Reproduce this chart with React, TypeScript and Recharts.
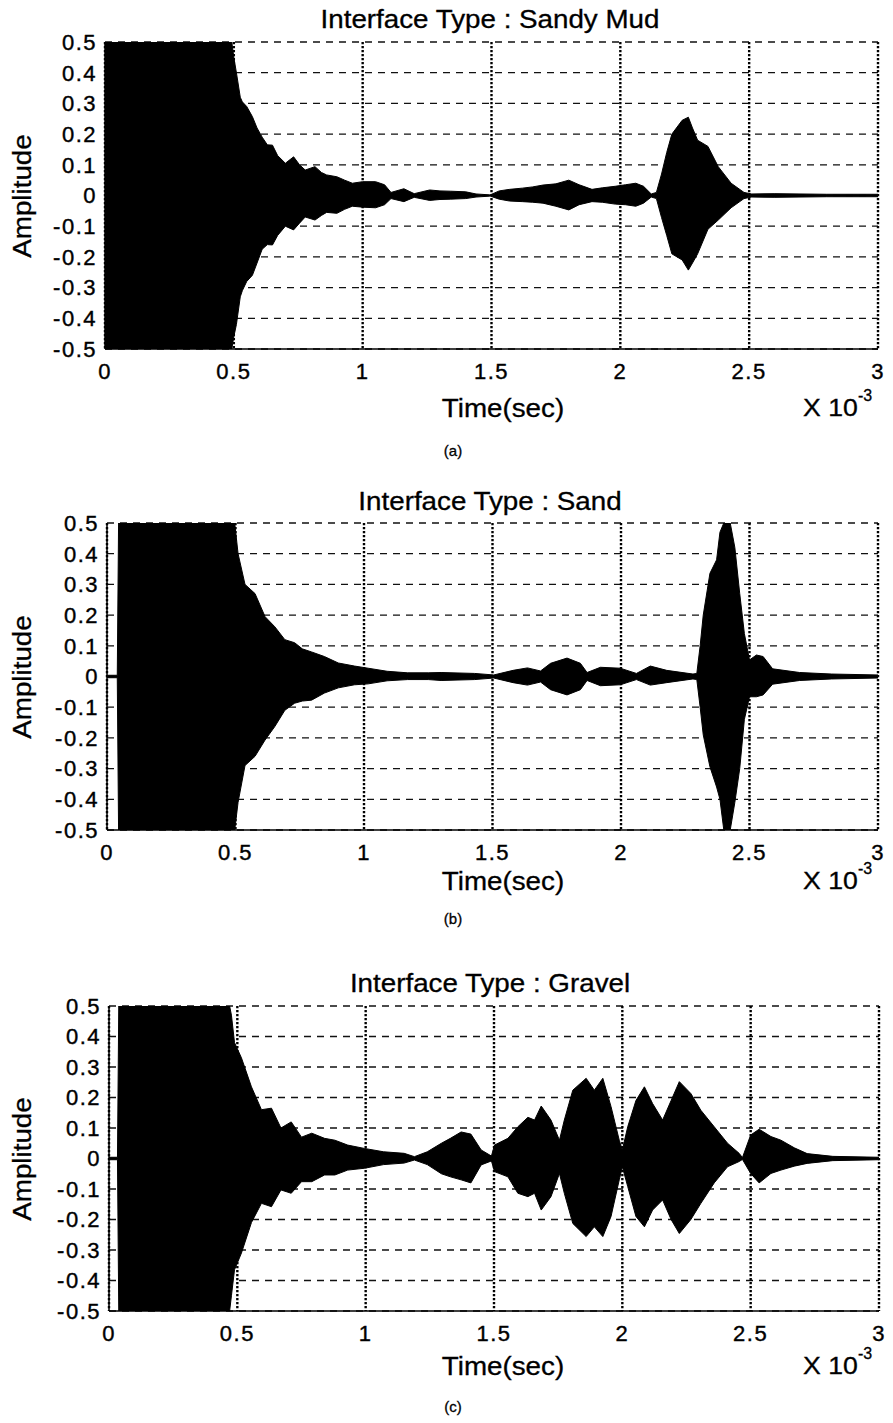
import React from 'react';
import { ComposedChart, Area, XAxis, YAxis, CartesianGrid } from 'recharts';

// time axis in ms (x 10^-3 s), amplitude envelopes
const timeTicks = [0, 0.5, 1, 1.5, 2, 2.5, 3];
const ampTicks = [-0.5, -0.4, -0.3, -0.2, -0.1, 0, 0.1, 0.2, 0.3, 0.4, 0.5];

// (a) Sandy Mud
const timeA = [0, 0.492, 0.5, 0.51, 0.525, 0.533, 0.55, 0.572, 0.59, 0.61, 0.63, 0.65, 0.67, 0.7, 0.732, 0.755, 0.777, 0.815, 0.84, 0.86, 0.9, 0.93, 0.96, 1.0, 1.05, 1.085, 1.11, 1.16, 1.2, 1.26, 1.3, 1.34, 1.4, 1.44, 1.495, 1.53, 1.57, 1.62, 1.66, 1.7, 1.75, 1.8, 1.84, 1.89, 1.93, 1.98, 2.02, 2.06, 2.09, 2.12, 2.14, 2.16, 2.18, 2.2, 2.24, 2.264, 2.28, 2.3, 2.34, 2.38, 2.43, 2.48, 2.51, 2.6, 2.8, 3.0];
const upperA = [0.5, 0.5, 0.45, 0.4, 0.32, 0.305, 0.29, 0.257, 0.22, 0.19, 0.165, 0.164, 0.13, 0.105, 0.126, 0.1, 0.083, 0.094, 0.075, 0.067, 0.061, 0.05, 0.04, 0.045, 0.045, 0.035, 0.01, 0.022, 0.006, 0.018, 0.015, 0.014, 0.012, 0.005, 0.002, 0.015, 0.02, 0.024, 0.028, 0.034, 0.038, 0.05, 0.035, 0.02, 0.025, 0.03, 0.035, 0.04, 0.03, 0.005, 0.01, 0.07, 0.14, 0.2, 0.245, 0.255, 0.22, 0.18, 0.16, 0.094, 0.04, 0.01, 0.005, 0.006, 0.004, 0.004];
const lowerA = [-0.5, -0.5, -0.46, -0.42, -0.33, -0.31, -0.28, -0.26, -0.22, -0.175, -0.16, -0.161, -0.13, -0.1, -0.112, -0.09, -0.07, -0.08, -0.065, -0.055, -0.058, -0.045, -0.035, -0.038, -0.04, -0.03, -0.01, -0.02, -0.006, -0.016, -0.013, -0.012, -0.01, -0.005, -0.002, -0.012, -0.018, -0.02, -0.022, -0.025, -0.035, -0.047, -0.03, -0.02, -0.022, -0.028, -0.03, -0.035, -0.025, -0.005, -0.01, -0.072, -0.13, -0.19, -0.21, -0.243, -0.22, -0.19, -0.11, -0.08, -0.04, -0.01, -0.005, -0.006, -0.004, -0.004];

// (b) Sand
const timeB = [0, 0.04, 0.045, 0.497, 0.51, 0.537, 0.576, 0.615, 0.653, 0.692, 0.73, 0.76, 0.796, 0.846, 0.9, 0.963, 1.016, 1.09, 1.17, 1.25, 1.3, 1.43, 1.505, 1.58, 1.636, 1.687, 1.726, 1.79, 1.842, 1.868, 1.92, 1.997, 2.06, 2.114, 2.178, 2.28, 2.295, 2.308, 2.32, 2.346, 2.372, 2.385, 2.4, 2.425, 2.443, 2.462, 2.48, 2.5, 2.527, 2.553, 2.59, 2.695, 2.82, 3.0];
const upperB = [0.004, 0.004, 0.5, 0.5, 0.4, 0.3, 0.27, 0.195, 0.162, 0.12, 0.11, 0.09, 0.08, 0.065, 0.044, 0.034, 0.027, 0.017, 0.012, 0.012, 0.013, 0.01, 0.005, 0.02, 0.028, 0.018, 0.043, 0.06, 0.043, 0.013, 0.03, 0.027, 0.01, 0.034, 0.02, 0.008, 0.01, 0.1, 0.2, 0.336, 0.38, 0.47, 0.5, 0.5, 0.42, 0.27, 0.14, 0.054, 0.07, 0.065, 0.025, 0.013, 0.008, 0.005];
const lowerB = [-0.004, -0.004, -0.5, -0.5, -0.41, -0.29, -0.26, -0.207, -0.163, -0.11, -0.087, -0.08, -0.077, -0.054, -0.037, -0.027, -0.024, -0.014, -0.01, -0.01, -0.013, -0.01, -0.005, -0.02, -0.028, -0.018, -0.043, -0.06, -0.043, -0.013, -0.03, -0.027, -0.01, -0.028, -0.02, -0.008, -0.01, -0.1, -0.19, -0.294, -0.36, -0.4, -0.5, -0.5, -0.41, -0.3, -0.14, -0.066, -0.066, -0.06, -0.025, -0.013, -0.008, -0.005];

// (c) Gravel
const timeC = [0, 0.033, 0.038, 0.47, 0.477, 0.489, 0.516, 0.555, 0.594, 0.633, 0.67, 0.71, 0.75, 0.79, 0.84, 0.88, 0.93, 0.995, 1.07, 1.15, 1.19, 1.24, 1.295, 1.33, 1.372, 1.41, 1.45, 1.49, 1.502, 1.554, 1.593, 1.632, 1.658, 1.684, 1.722, 1.755, 1.774, 1.807, 1.859, 1.891, 1.924, 1.956, 1.988, 2.0, 2.021, 2.053, 2.086, 2.118, 2.157, 2.19, 2.222, 2.267, 2.306, 2.358, 2.41, 2.455, 2.468, 2.5, 2.533, 2.579, 2.618, 2.67, 2.72, 2.82, 3.0];
const upperC = [0.004, 0.004, 0.5, 0.5, 0.47, 0.38, 0.33, 0.235, 0.16, 0.165, 0.1, 0.12, 0.07, 0.083, 0.066, 0.06, 0.044, 0.033, 0.022, 0.017, 0.006, 0.022, 0.05, 0.066, 0.087, 0.08, 0.028, 0.008, 0.044, 0.066, 0.104, 0.135, 0.126, 0.172, 0.126, 0.06, 0.126, 0.224, 0.263, 0.224, 0.263, 0.17, 0.06, 0.028, 0.104, 0.19, 0.235, 0.18, 0.126, 0.19, 0.252, 0.213, 0.158, 0.104, 0.05, 0.017, 0.003, 0.077, 0.096, 0.072, 0.06, 0.035, 0.016, 0.007, 0.004];
const lowerC = [-0.004, -0.004, -0.5, -0.5, -0.45, -0.365, -0.31, -0.21, -0.147, -0.158, -0.103, -0.114, -0.076, -0.076, -0.054, -0.054, -0.038, -0.032, -0.02, -0.015, -0.005, -0.02, -0.05, -0.06, -0.07, -0.08, -0.021, -0.008, -0.043, -0.06, -0.114, -0.125, -0.114, -0.169, -0.125, -0.049, -0.114, -0.213, -0.256, -0.224, -0.256, -0.19, -0.07, -0.027, -0.092, -0.19, -0.224, -0.169, -0.136, -0.2, -0.246, -0.2, -0.147, -0.08, -0.027, -0.01, -0.003, -0.049, -0.08, -0.049, -0.038, -0.025, -0.016, -0.007, -0.004];

const FONT = '"Liberation Sans", Arial, sans-serif';
const W = 893;
const Y_AXIS_W = 70;
const X_AXIS_H = 40;

function Panel({ title, tag, time, upper, lower, layout }: any) {
  const rows = time.map((t: number, i: number) => ({ t, range: [lower[i], upper[i]] }));
  const { top, plotTop, plotBottom, left, right, titleY, xLabelY, tagY } = layout;
  const h = plotBottom - top + X_AXIS_H;
  const tickStyle = { fontSize: 22, fill: '#000', stroke: '#000', strokeWidth: 0.4, fontFamily: FONT, letterSpacing: 1.5 };
  const abs: any = {
    position: 'absolute',
    fontFamily: FONT,
    color: '#000',
    whiteSpace: 'nowrap',
    lineHeight: 1,
    WebkitTextStroke: '0.3px #000',
  };

  return (
    <>
      <div style={{ position: 'absolute', left: 0, top }}>
        <ComposedChart
          width={W}
          height={h}
          data={rows}
          margin={{ top: plotTop - top, right: W - right, bottom: 0, left: left - Y_AXIS_W }}
        >
          <CartesianGrid vertical={false} stroke="#111" strokeWidth={1.3} strokeDasharray="7 6" />
          <CartesianGrid horizontal={false} stroke="#000" strokeWidth={2.4} strokeDasharray="2.2 1.8" />
          <XAxis
            dataKey="t"
            type="number"
            domain={[0, 3]}
            ticks={timeTicks}
            interval={0}
            allowDataOverflow
            height={X_AXIS_H}
            tickLine={false}
            tickMargin={8}
            axisLine={{ stroke: '#000', strokeWidth: 1.5 }}
            tick={tickStyle}
          />
          <XAxis
            xAxisId="top"
            orientation="top"
            type="number"
            domain={[0, 3]}
            height={0}
            tick={false}
            tickLine={false}
            axisLine={{ stroke: '#000', strokeWidth: 1.5 }}
          />
          <YAxis
            type="number"
            domain={[-0.5, 0.5]}
            ticks={ampTicks}
            interval={0}
            allowDataOverflow
            width={Y_AXIS_W}
            tickLine={false}
            axisLine={{ stroke: '#000', strokeWidth: 1.5 }}
            tick={tickStyle}
            tickFormatter={(v: number) => String(v)}
          />
          <YAxis
            yAxisId="right"
            orientation="right"
            type="number"
            domain={[-0.5, 0.5]}
            width={0}
            tick={false}
            tickLine={false}
            axisLine={{ stroke: '#000', strokeWidth: 1.5 }}
          />
          <Area
            dataKey="range"
            type="linear"
            stroke="#000"
            strokeWidth={1}
            fill="#000"
            fillOpacity={1}
            dot={false}
            activeDot={false}
            isAnimationActive={false}
          />
        </ComposedChart>
      </div>
      <div style={{ ...abs, left: 490, top: titleY, fontSize: 25, transform: 'translate(-50%, -50%) scaleX(1.11)' }}>
        {title}
      </div>
      <div
        style={{
          ...abs,
          left: 22,
          top: (plotTop + plotBottom) / 2,
          fontSize: 25,
          transform: 'translate(-50%, -50%) rotate(-90deg) scaleX(1.11)',
        }}
      >
        Amplitude
      </div>
      <div style={{ ...abs, left: 503, top: xLabelY, fontSize: 25, transform: 'translate(-50%, -50%) scaleX(1.11)' }}>
        Time(sec)
      </div>
      <div style={{ ...abs, left: 803, top: xLabelY, fontSize: 24, transform: 'translateY(-50%) scaleX(1.11)', transformOrigin: 'left center' }}>
        X 10
      </div>
      <div style={{ ...abs, left: 858, top: xLabelY - 12, fontSize: 16, transform: 'translateY(-50%)' }}>-3</div>
      <div style={{ ...abs, left: 453, top: tagY, fontSize: 15, transform: 'translate(-50%, -50%)' }}>{tag}</div>
    </>
  );
}

const layoutA = { top: 0, plotTop: 42, plotBottom: 349, left: 105, right: 878, titleY: 19, xLabelY: 408, tagY: 450 };
const layoutB = { top: 470, plotTop: 523, plotBottom: 830, left: 107, right: 878, titleY: 501, xLabelY: 881, tagY: 918 };
const layoutC = { top: 950, plotTop: 1006, plotBottom: 1311, left: 109, right: 879, titleY: 983, xLabelY: 1366, tagY: 1406 };

export default function App() {
  return (
    <div style={{ position: 'absolute', left: 0, top: 0, width: W, height: 1423, background: '#fff', overflow: 'hidden' }}>
      <Panel title="Interface Type : Sandy Mud" tag="(a)" time={timeA} upper={upperA} lower={lowerA} layout={layoutA} />
      <Panel title="Interface Type : Sand" tag="(b)" time={timeB} upper={upperB} lower={lowerB} layout={layoutB} />
      <Panel title="Interface Type : Gravel" tag="(c)" time={timeC} upper={upperC} lower={lowerC} layout={layoutC} />
    </div>
  );
}
